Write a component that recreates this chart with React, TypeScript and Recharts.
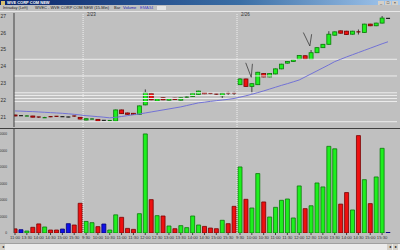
import React from "react";
import { Bar, Cell, ComposedChart, Line, ReferenceLine, XAxis, YAxis } from "recharts";

// 15-min bars over three sessions
const times = [
  "11:00", "13:15", "13:30", "13:45", "14:00", "14:15", "14:30", "14:45", "15:00", "15:15", "15:30", "15:45",
  "9:30", "9:45", "10:00", "10:15", "10:30", "10:45", "11:00", "11:15", "11:30", "11:45", "12:00", "12:15", "12:30",
  "12:45", "13:00", "13:15", "13:30", "13:45", "14:00", "14:15", "14:30", "14:45", "15:00", "15:15", "15:30", "15:45",
  "9:30", "9:45", "10:00", "10:15", "10:30", "10:45", "11:00", "11:15", "11:30", "11:45", "12:00", "12:15", "12:30",
  "12:45", "13:00", "13:15", "13:30", "13:45", "14:00", "14:15", "14:30", "14:45", "15:00", "15:15", "15:30", "15:45",
];

const opens = [
  21.12, 21.08, 21.06, 21.06, 21.0, 20.96, 21.02, 21.04, 21.02, 21.0, 21.06, 20.98,
  20.82, 20.88, 20.86, 20.8, 20.79, 20.76, 21.42, 21.24, 21.22, 21.16, 21.72, 22.4, 21.94,
  22.14, 22.0, 22.12, 22.0, 22.18, 22.22, 22.34, 22.46, 22.4, 22.36, 22.26, 22.42, 22.42,
  22.92, 23.26, 22.82, 22.92, 23.58, 23.38, 23.56, 23.86, 24.2, 24.3, 24.42, 24.64, 24.42,
  24.82, 25.12, 25.32, 25.86, 26.12, 26.1, 25.92, 26.06, 26.02, 26.52, 26.42, 26.58, 26.86,
];
const highs = [
  21.14, 21.1, 21.1, 21.07, 21.01, 21.01, 21.03, 21.05, 21.04, 21.02, 21.08, 21.0,
  20.92, 20.92, 20.88, 20.82, 20.82, 21.44, 21.44, 21.26, 21.24, 21.68, 22.64, 22.44, 22.1,
  22.16, 22.12, 22.14, 22.16, 22.22, 22.44, 22.56, 22.48, 22.42, 22.38, 22.44, 22.5, 22.5,
  23.3, 23.28, 23.0, 23.68, 23.6, 23.6, 23.88, 24.16, 24.32, 24.42, 24.68, 24.66, 24.98,
  25.14, 25.34, 26.1, 26.08, 26.14, 26.12, 26.12, 26.2, 26.54, 26.54, 26.6, 27.0, 26.88,
];
const lows = [
  21.04, 21.06, 21.05, 20.98, 20.95, 20.95, 20.99, 21.01, 21.0, 20.98, 21.01, 20.86,
  20.8, 20.86, 20.74, 20.78, 20.77, 20.74, 21.18, 21.14, 21.12, 21.14, 21.7, 22.0, 21.92,
  22.0, 21.98, 22.02, 21.98, 22.16, 22.2, 22.32, 22.36, 22.36, 22.32, 22.12, 22.3, 22.28,
  22.9, 22.8, 22.4, 22.9, 23.36, 23.36, 23.54, 23.84, 24.18, 24.28, 24.4, 24.42, 24.4,
  24.8, 25.1, 25.3, 25.84, 25.96, 25.88, 25.9, 25.9, 26.0, 26.4, 26.4, 26.56, 26.84,
];
const closes = [
  21.06, 21.08, 21.09, 20.99, 20.96, 21.0, 21.0, 21.02, 21.02, 21.0, 21.02, 20.88,
  20.9, 20.9, 20.76, 20.8, 20.81, 21.42, 21.2, 21.16, 21.14, 21.66, 22.44, 22.02, 22.08,
  22.02, 22.1, 22.04, 22.14, 22.2, 22.42, 22.54, 22.38, 22.38, 22.34, 22.42, 22.4, 22.4,
  23.26, 22.82, 22.98, 23.66, 23.38, 23.58, 23.86, 24.14, 24.3, 24.4, 24.66, 24.44, 24.82,
  25.12, 25.32, 25.92, 26.06, 25.98, 25.9, 26.1, 26.04, 26.52, 26.42, 26.58, 26.88, 26.86,
];
const volumes = [
  5000, 4000, 2400, 6900, 11000, 7300, 3600, 3600, 4800, 11300, 9700, 36000,
  14000, 12500, 7700, 10900, 3600, 22000, 19000, 5600, 4400, 23400, 120000, 40400, 21000,
  20600, 8500, 5200, 8900, 6500, 20600, 9700, 8000, 6000, 5200, 15400, 11300, 32300,
  80000, 40800, 30300, 72000, 37600, 19400, 31100, 39600, 41200, 18200, 57000, 29500, 33000,
  60600, 55800, 105000, 102000, 35000, 49000, 27900, 118000, 64600, 35600, 67900, 102600, 600,
];
const ema34 = [
  21.36, 21.35, 21.33, 21.32, 21.3, 21.28, 21.26, 21.24, 21.22, 21.19, 21.16, 21.12,
  21.08, 21.05, 21.02, 20.99, 20.95, 20.98, 21.03, 21.08, 21.14, 21.18, 21.24, 21.3, 21.36,
  21.42, 21.48, 21.54, 21.6, 21.68, 21.76, 21.84, 21.88, 21.93, 21.97, 22.01, 22.05, 22.1,
  22.18, 22.26, 22.35, 22.45, 22.55, 22.66, 22.77, 22.88, 22.98, 23.09, 23.2, 23.38, 23.56,
  23.74, 23.92, 24.1, 24.29, 24.43, 24.57, 24.7, 24.83, 24.96, 25.09, 25.22, 25.35, 25.47,
];

const priceTicks = [21, 22, 23, 24, 25, 26, 27];
const volumeTicks = [0, 20000, 40000, 60000, 80000, 100000, 120000];
const supportLevels = [24.43, 23.44, 22.44, 22.28, 22.1, 21.92, 20.72];
const dayBreaks = [
  { at: 11.5, label: "2/23" },
  { at: 37.5, label: "2/26" },
];
// hand drawn marks on the price panel (bar index, price)
const marks = [
  [{ x: 38.97, y: 24.22 }, { x: 39.9, y: 23.36 }],
  [{ x: 40.1, y: 24.16 }, { x: 39.9, y: 23.36 }],
  [{ x: 48.7, y: 26.02 }, { x: 49.8, y: 25.22 }],
  [{ x: 50.1, y: 25.92 }, { x: 49.8, y: 25.22 }],
];

const X_DOMAIN: [number, number] = [-0.17, 64.52];
const UP = { fill: "#1ef01e", stroke: "#0a7a0a" };
const DOWN = { fill: "#ee1010", stroke: "#7a0000" };
const FLAT = { fill: "#1010e8", stroke: "#00007a" };

const rows = times.map((t, i) => ({
  i,
  t,
  open: opens[i],
  high: highs[i],
  low: lows[i],
  close: closes[i],
  vol: volumes[i],
  ema: ema34[i],
}));

const tone = (r: { open: number; close: number }) => (r.close > r.open ? UP : r.close < r.open ? DOWN : FLAT);
const labelTicks = rows.filter((r) => r.t.endsWith(":00") || r.t.endsWith(":30") || r.i === 0).map((r) => r.i);

function Candle(props: any) {
  const { x, y, width, height, payload } = props;
  if (x == null || y == null) return null;
  const top = Math.min(y, y + height);
  const bottom = Math.max(y, y + height);
  const span = payload.high - payload.low;
  const k = span > 0 ? (bottom - top) / span : 0;
  const yo = top + (payload.high - payload.open) * k;
  const yc = top + (payload.high - payload.close) * k;
  const cx = x + width / 2;
  const c = tone(payload);
  const bTop = Math.min(yo, yc);
  const bH = Math.abs(yo - yc);
  return (
    <g>
      <line x1={cx} x2={cx} y1={top} y2={bottom} stroke="#202020" strokeWidth={0.8} />
      {c === FLAT || bH < 1 ? (
        <line x1={x} x2={x + width} y1={yo} y2={yo} stroke={c === FLAT ? "#202020" : c.stroke} strokeWidth={1.2} />
      ) : (
        <rect x={x} y={bTop} width={width} height={bH} fill={c.fill} stroke={c.stroke} strokeWidth={0.8} />
      )}
    </g>
  );
}

const font = "Liberation Sans, Arial, sans-serif";
const priceTick = { fontSize: 5, fill: "#303030", fontFamily: font };
const timeTick = { fontSize: 4.2, fill: "#303030", fontFamily: font };

// volume labels are squeezed to fit the narrow axis
function VolTick(props: any) {
  const { x, y, payload } = props;
  const s = String(payload.value);
  return (
    <text
      x={x}
      y={y}
      dy={1.4}
      textAnchor="end"
      fontSize={4.2}
      fill="#303030"
      fontFamily={font}
      textLength={s.length * 1.85}
      lengthAdjust="spacingAndGlyphs"
    >
      {s}
    </text>
  );
}

export default function App() {
  return (
    <div
      style={{
        position: "relative",
        width: 400,
        height: 250,
        background: "#c0c0c0",
        overflow: "hidden",
        fontFamily: font,
      }}
    >
      <style>{"body{margin:0}"}</style>
      {/* window title */}
      <div
        style={{
          position: "absolute",
          top: 0,
          left: 0,
          width: 400,
          height: 5,
          background: "linear-gradient(90deg, #0a246a, #3a6ea5 60%, #a6caf0)",
        }}
      >
        <div style={{ position: "absolute", left: 1, top: 0.5, width: 4, height: 4, background: "#d8c070" }} />
        <span style={{ position: "absolute", left: 7, top: 0, fontSize: 4, lineHeight: "5px", color: "#fff", fontWeight: "bold" }}>
          WVE CORP COM NEW
        </span>
        {["_", "□", "×"].map((s, k) => (
          <span
            key={s}
            style={{
              position: "absolute",
              left: 378 + k * 7,
              top: 0.5,
              width: 6,
              height: 4,
              background: "#d4d0c8",
              fontSize: 4,
              lineHeight: "4px",
              textAlign: "center",
              color: "#000",
            }}
          >
            {s}
          </span>
        ))}
      </div>
      {/* study bar */}
      <div style={{ position: "absolute", top: 5, left: 0, width: 400, height: 6, fontSize: 4, lineHeight: "6px", color: "#202020", whiteSpace: "nowrap" }}>
        <span style={{ position: "absolute", left: 3 }}>Intraday (Left)</span>
        <span style={{ position: "absolute", left: 35 }}>WVEC - WVE CORP COM NEW (15-Min)</span>
        <span style={{ position: "absolute", left: 114 }}>Bar</span>
        <span style={{ position: "absolute", left: 123, color: "#2020b0" }}>Volume</span>
        <span style={{ position: "absolute", left: 140, color: "#4040c8" }}>EMA34</span>
        <span style={{ position: "absolute", left: 157, top: 1, width: 9, height: 4, background: "#e4e4e4" }} />
      </div>
      <div style={{ position: "absolute", top: 11, left: 0, width: 400, height: 1, background: "#e8e8e8" }} />

      {/* price panel */}
      <div style={{ position: "absolute", top: 12, left: 0 }}>
        <ComposedChart width={400} height={115} data={rows} margin={{ top: 1, right: 3, bottom: 0, left: 0 }}>
          <XAxis type="number" dataKey="i" domain={X_DOMAIN} allowDataOverflow hide />
          <YAxis
            type="number"
            domain={[20.406, 27.18]}
            ticks={priceTicks}
            interval={0}
            allowDataOverflow
            width={14}
            tick={priceTick}
            tickLine={false}
            tickMargin={2}
            axisLine={{ stroke: "#404040" }}
          />
          {supportLevels.map((v) => (
            <ReferenceLine key={v} y={v} stroke="#ececec" strokeWidth={1} />
          ))}
          {dayBreaks.map((d) => (
            <ReferenceLine
              key={d.at}
              x={d.at}
              stroke="#f0f0f0"
              strokeDasharray="1 1"
              label={(p: any) => {
                const vb = p.viewBox || {};
                return (
                  <text x={(vb.x || 0) + 4} y={(vb.y || 0) + 3} fontSize={4.5} fill="#303030" fontFamily={font}>
                    {d.label}
                  </text>
                );
              }}
            />
          ))}
          <Line dataKey="ema" stroke="#7272d6" strokeWidth={1} dot={false} isAnimationActive={false} />
          <Bar dataKey={(d: any) => [d.low, d.high]} barSize={4} shape={Candle} isAnimationActive={false} />
          {marks.map((m, k) => (
            <ReferenceLine key={k} segment={m} stroke="#282828" strokeWidth={0.7} />
          ))}
        </ComposedChart>
      </div>

      <div style={{ position: "absolute", top: 128, left: 0, width: 400, height: 1, background: "#404040" }} />

      {/* volume panel */}
      <div style={{ position: "absolute", top: 128, left: 0 }}>
        <ComposedChart width={400} height={116} data={rows} margin={{ top: 1, right: 3, bottom: 0, left: 0 }}>
          <XAxis
            type="number"
            dataKey="i"
            domain={X_DOMAIN}
            allowDataOverflow
            ticks={labelTicks}
            interval={0}
            tickFormatter={(v: number) => times[v]}
            tick={timeTick}
            tickSize={2}
            tickMargin={1}
            tickLine={{ stroke: "#404040" }}
            axisLine={false}
            height={11}
          />
          <YAxis
            type="number"
            domain={[0, 126000]}
            ticks={volumeTicks}
            interval={0}
            allowDataOverflow
            width={14}
            tick={<VolTick />}
            tickLine={false}
            tickMargin={1}
            axisLine={{ stroke: "#404040" }}
          />
          {dayBreaks.map((d) => (
            <ReferenceLine key={d.at} x={d.at} stroke="#f0f0f0" strokeDasharray="1 1" />
          ))}
          <Bar dataKey="vol" barSize={4} isAnimationActive={false}>
            {rows.map((r) => {
              const c = tone(r);
              return <Cell key={r.i} fill={c.fill} stroke={c.stroke} strokeWidth={0.8} />;
            })}
          </Bar>
        </ComposedChart>
      </div>

      {/* scroll bar */}
      <div style={{ position: "absolute", top: 243, left: 0, width: 400, height: 7, background: "#ececec", borderTop: "1px solid #a0a0a0" }}>
        <div style={{ position: "absolute", left: 0, top: 0, width: 5, height: 6, background: "#d4d0c8", fontSize: 4, lineHeight: "6px", textAlign: "center" }}>◂</div>
        <div style={{ position: "absolute", left: 387, top: 0, width: 5, height: 6, background: "#d4d0c8", fontSize: 4, lineHeight: "6px", textAlign: "center" }}>◂</div>
        <div style={{ position: "absolute", left: 393, top: 0, width: 5, height: 6, background: "#d4d0c8", fontSize: 4, lineHeight: "6px", textAlign: "center" }}>▸</div>
      </div>
    </div>
  );
}
